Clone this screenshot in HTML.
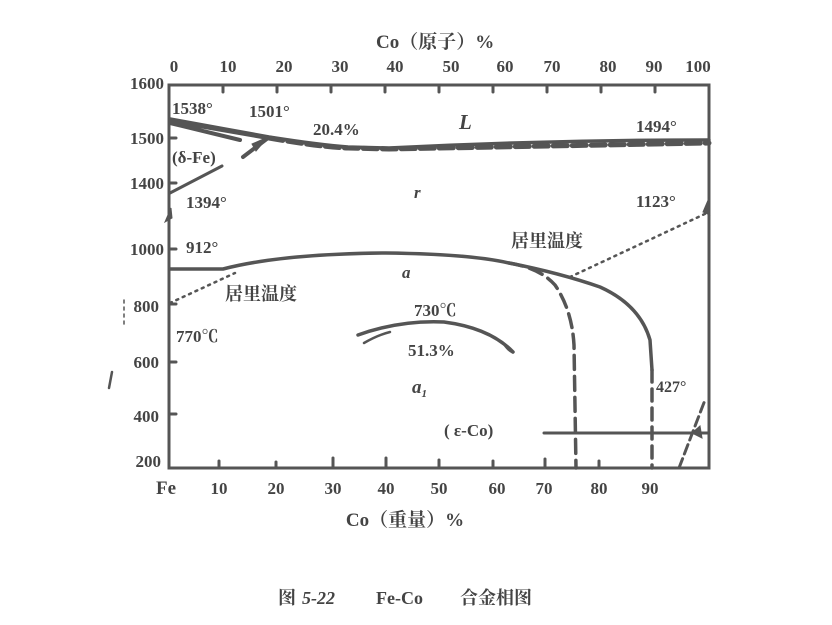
<!DOCTYPE html>
<html><head><meta charset="utf-8"><style>
body{margin:0;background:#fff;width:832px;height:620px;overflow:hidden}
svg text{font-family:"Liberation Serif","Noto Serif CJK SC",serif;fill:#444;font-weight:bold}
</style></head><body>
<svg width="832" height="620" viewBox="0 0 832 620">
<g stroke="#555" fill="none" stroke-linecap="round">
<rect x="169" y="85" width="540" height="383" stroke-width="3"/>
<g stroke-width="3">
<line x1="223" y1="85" x2="223" y2="92"/><line x1="277" y1="85" x2="277" y2="92"/><line x1="331" y1="85" x2="331" y2="92"/><line x1="385" y1="85" x2="385" y2="92"/><line x1="439" y1="85" x2="439" y2="92"/><line x1="493" y1="85" x2="493" y2="92"/><line x1="547" y1="85" x2="547" y2="92"/><line x1="601" y1="85" x2="601" y2="92"/><line x1="655" y1="85" x2="655" y2="92"/>
<line x1="219" y1="468" x2="219" y2="461"/><line x1="276" y1="468" x2="276" y2="462"/><line x1="333" y1="468" x2="333" y2="458"/><line x1="386" y1="468" x2="386" y2="458"/><line x1="439" y1="468" x2="439" y2="460"/><line x1="493" y1="468" x2="493" y2="461"/><line x1="545" y1="468" x2="545" y2="459"/><line x1="599" y1="468" x2="599" y2="461"/>
<line x1="169" y1="138" x2="176" y2="138"/><line x1="169" y1="183" x2="176" y2="183"/><line x1="169" y1="249" x2="176" y2="249"/><line x1="169" y1="304" x2="176" y2="304"/><line x1="169" y1="362" x2="176" y2="362"/><line x1="169" y1="414" x2="176" y2="414"/>
</g>
<path d="M170 119 L269 137 Q320 145 348 147 L389 148 Q550 140 709 140" stroke-width="3.5"/>
<path d="M269 138 Q320 147 348 148 L389 149 L709 143" stroke-width="5" stroke-dasharray="14 5"/>
<path d="M170 121 L268 138 M170 123 L240 140" stroke-width="4"/>
<path d="M243 157 L268 138" stroke-width="4"/>
<polygon points="268,137 252,144 256,151" fill="#555"/>
<path d="M170 193 L222 166" stroke-width="3"/>
<polygon points="171,208 165,222 172,218" fill="#555"/>
<path d="M170 269 L223 269 Q280 254 386 253 Q470 254 509 263 Q560 273 600 287 Q640 305 650 340 L652 370" stroke-width="3.5"/>
<path d="M652 370 L652 468" stroke-width="3.5" stroke-dasharray="12 7"/>
<path d="M509 263 Q540 268 555 285 Q572 310 574 345 L576 468" stroke-width="3.5" stroke-dasharray="14 7"/>
<path d="M170 303 L235 273" stroke-width="2.5" stroke-dasharray="2 5"/>
<path d="M570 277 L709 212" stroke-width="2.5" stroke-dasharray="2 5"/>
<polygon points="709,198 703,212 710,215" fill="#555"/>
<path d="M358 335 Q400 320 444 322 Q490 328 513 352" stroke-width="3.5"/>
<path d="M364 343 Q378 335 390 332 M504 344 Q508 350 512 352" stroke-width="2.5"/>
<path d="M544 433 L709 433" stroke-width="3"/>
<path d="M679 468 L705 400" stroke-width="3" stroke-dasharray="10 5"/>
<polygon points="692,433 700,426 702,438" fill="#555"/>
<line x1="124" y1="300" x2="124" y2="325" stroke-width="1.5" stroke-dasharray="3 4"/>
<line x1="112" y1="372" x2="109" y2="388" stroke-width="2.5"/>
</g>
<g font-size="17">
<text x="376" y="48" font-size="19">Co（原子）%</text>
<text x="174" y="72" text-anchor="middle">0</text><text x="228" y="72" text-anchor="middle">10</text><text x="284" y="72" text-anchor="middle">20</text><text x="340" y="72" text-anchor="middle">30</text><text x="395" y="72" text-anchor="middle">40</text><text x="451" y="72" text-anchor="middle">50</text><text x="505" y="72" text-anchor="middle">60</text><text x="552" y="72" text-anchor="middle">70</text><text x="608" y="72" text-anchor="middle">80</text><text x="654" y="72" text-anchor="middle">90</text><text x="698" y="72" text-anchor="middle">100</text>
<g text-anchor="end"><text x="164" y="89">1600</text><text x="164" y="144">1500</text><text x="164" y="189">1400</text><text x="164" y="255">1000</text><text x="159" y="312">800</text><text x="159" y="368">600</text><text x="159" y="422">400</text><text x="161" y="467">200</text></g>
<text x="156" y="494" font-size="19">Fe</text>
<g text-anchor="middle"><text x="219" y="494">10</text><text x="276" y="494">20</text><text x="333" y="494">30</text><text x="386" y="494">40</text><text x="439" y="494">50</text><text x="497" y="494">60</text><text x="544" y="494">70</text><text x="599" y="494">80</text><text x="650" y="494">90</text></g>
<text x="405" y="526" text-anchor="middle" font-size="19">Co（重量）%</text>
<text x="172" y="114">1538°</text><text x="249" y="117">1501°</text><text x="313" y="135">20.4%</text>
<text x="459" y="129" font-style="italic" font-size="21">L</text><text x="636" y="132">1494°</text>
<text x="172" y="163">(δ-Fe)</text><text x="186" y="208">1394°</text><text x="414" y="198" font-style="italic">r</text>
<text x="636" y="207">1123°</text><text x="186" y="253">912°</text>
<text x="511" y="247" font-size="18">居里温度</text><text x="225" y="300" font-size="18">居里温度</text>
<text x="402" y="278" font-style="italic">a</text>
<text x="176" y="342">770℃</text><text x="414" y="316">730℃</text><text x="408" y="356">51.3%</text>
<text x="412" y="393" font-style="italic" font-size="19">a<tspan font-size="11" dy="4">1</tspan></text>
<text x="444" y="436">( ε-Co)</text><text x="656" y="392" font-size="16">427°</text>
<g font-weight="normal" font-size="18"><text x="278" y="604">图</text><text x="302" y="604" font-style="italic">5-22</text><text x="376" y="604">Fe-Co</text><text x="460" y="604">合金相图</text></g>
</g>
</svg>
</body></html>
